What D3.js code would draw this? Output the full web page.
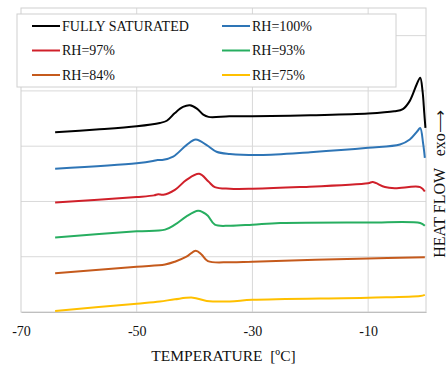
<!DOCTYPE html>
<html>
<head>
<meta charset="utf-8">
<script src="https://cdn.jsdelivr.net/npm/d3@7"></script>
<style>
  body { margin: 0; background: #fff; }
  svg text { font-family: "Liberation Serif", "Times New Roman", serif; }
</style>
</head>
<body>
<div id="chart"></div>
<script>
"use strict";

// temperature [ºC], heat flow (arbitrary, curves offset)
var fullySaturated = [[-64.1,3.25],[-57,3.30],[-50,3.36],[-46,3.42],[-44.8,3.46],[-43.4,3.60],[-42,3.71],[-40.8,3.74],[-39.6,3.68],[-38.5,3.57],[-37.6,3.53],[-34,3.54],[-30,3.54],[-20,3.56],[-10,3.59],[-5.5,3.63],[-4,3.67],[-2.8,3.82],[-1.6,4.12],[-1.0,4.24],[-0.6,4.0],[-0.3,3.6],[-0.1,3.33]];
var rh100 = [[-64.1,2.59],[-50,2.69],[-47.2,2.73],[-46.4,2.75],[-45.6,2.75],[-43.7,2.81],[-41.4,3.02],[-39.8,3.12],[-37.9,3.02],[-36.2,2.90],[-33.9,2.86],[-28.7,2.84],[-20,2.89],[-10,2.97],[-4.5,3.03],[-2.8,3.12],[-1.5,3.27],[-1.0,3.33],[-0.5,3.05],[-0.2,2.79]];
var rh97 = [[-64.1,1.98],[-50,2.08],[-47,2.11],[-46.3,2.13],[-45.4,2.12],[-43.4,2.21],[-41.4,2.39],[-39.2,2.50],[-37.6,2.36],[-36.5,2.26],[-33.9,2.23],[-30,2.23],[-21.8,2.26],[-10,2.33],[-9.2,2.35],[-7.1,2.26],[-5.4,2.24],[-1,2.26],[-0.2,2.18]];
var rh93 = [[-64.1,1.35],[-50,1.46],[-45.1,1.49],[-43.4,1.58],[-41.4,1.73],[-39.4,1.83],[-38.5,1.80],[-37.7,1.74],[-36.5,1.58],[-33.9,1.56],[-30,1.58],[-25.2,1.61],[-10,1.62],[-1,1.61],[-0.2,1.56]];
var rh84 = [[-64.1,0.70],[-50,0.82],[-45.1,0.86],[-43.4,0.91],[-41.4,1.00],[-39.8,1.11],[-38.8,1.04],[-37.7,0.92],[-33.9,0.90],[-30,0.91],[-10,0.97],[-0.2,0.99]];
var rh75 = [[-64.1,0.02],[-50,0.15],[-46,0.19],[-43.4,0.23],[-40.3,0.26],[-37.9,0.20],[-33.9,0.19],[-30,0.22],[-10,0.26],[-1,0.29],[-0.2,0.31]];

var seriesNames  = ["FULLY SATURATED", "RH=100%", "RH=97%", "RH=93%", "RH=84%", "RH=75%"];
var seriesValues = [fullySaturated, rh100, rh97, rh93, rh84, rh75];
var seriesColors = ["#000000", "#2e75b6", "#d0202a", "#27ae60", "#c55a1c", "#ffc000"];

var xTicks  = [-70, -50, -30, -10];
var yGrid   = [1, 2, 3, 4, 5];

var width  = 447;
var height = 365;
var margin = { top: 8, right: 21, bottom: 53, left: 21 };
var serif  = "'Liberation Serif', 'Times New Roman', serif";

var svg = d3.select("#chart").append("svg")
  .attr("width", width)
  .attr("height", height);

var x = d3.scaleLinear().domain([-70, 0]).range([margin.left, width - margin.right]);
var y = d3.scaleLinear().domain([0, 5.5]).range([height - margin.bottom, margin.top]);

// grid
svg.append("g")
  .selectAll("line")
  .data(yGrid)
  .enter().append("line")
  .attr("x1", x(-70)).attr("x2", x(0))
  .attr("y1", function(d) { return y(d); })
  .attr("y2", function(d) { return y(d); })
  .attr("stroke", "#d9d9d9");

svg.append("g")
  .selectAll("line")
  .data(xTicks.slice(1))
  .enter().append("line")
  .attr("y1", y(0)).attr("y2", y(5.5))
  .attr("x1", function(d) { return x(d); })
  .attr("x2", function(d) { return x(d); })
  .attr("stroke", "#d9d9d9");

svg.append("rect")
  .attr("x", x(-70)).attr("y", y(5.5))
  .attr("width", x(0) - x(-70)).attr("height", y(0) - y(5.5))
  .attr("fill", "none")
  .attr("stroke", "#d0d0d0");

// x axis
var xAxis = svg.append("g")
  .attr("transform", "translate(0," + y(0) + ")")
  .call(d3.axisBottom(x)
    .tickValues(xTicks)
    .tickSize(0)
    .tickPadding(14)
    .tickFormat(function(d) { return String(d); }));
xAxis.select(".domain").attr("stroke", "#bfbfbf");
xAxis.selectAll("text")
  .attr("font-family", serif)
  .attr("font-size", 14)
  .attr("fill", "#111");

// curves
var line = d3.line()
  .x(function(d) { return x(d[0]); })
  .y(function(d) { return y(d[1]); })
  .curve(d3.curveCatmullRom.alpha(0.5));

svg.append("g")
  .selectAll("path")
  .data(seriesValues)
  .enter().append("path")
  .attr("d", line)
  .attr("fill", "none")
  .attr("stroke", function(d, i) { return seriesColors[i]; })
  .attr("stroke-width", 2)
  .attr("stroke-linejoin", "round");

// legend
var legend = svg.append("g");
legend.append("rect")
  .attr("x", 17).attr("y", 14)
  .attr("width", 379).attr("height", 73)
  .attr("fill", "#fff")
  .attr("stroke", "#d0d0d0");

var item = legend.selectAll("g")
  .data(seriesNames)
  .enter().append("g")
  .attr("transform", function(d, i) {
    return "translate(" + (i % 2 ? 222 : 32) + "," + (26 + Math.floor(i / 2) * 24.5) + ")";
  });

item.append("line")
  .attr("x1", 0).attr("x2", 28)
  .attr("stroke", function(d, i) { return seriesColors[i]; })
  .attr("stroke-width", 2);

item.append("text")
  .attr("x", 30)
  .attr("dy", "0.35em")
  .attr("font-family", serif)
  .attr("font-size", 14)
  .attr("fill", "#111")
  .text(function(d) { return d; });

// titles
svg.append("text")
  .attr("x", (x(-70) + x(0)) / 2)
  .attr("y", 361)
  .attr("text-anchor", "middle")
  .attr("font-family", serif)
  .attr("font-size", 15.5)
  .attr("fill", "#111")
  .style("white-space", "pre")
  .text("TEMPERATURE  [ºC]");

svg.append("text")
  .attr("transform", "translate(445,184) rotate(-90)")
  .attr("text-anchor", "middle")
  .attr("font-family", serif)
  .attr("font-size", 16)
  .attr("fill", "#111")
  .style("white-space", "pre")
  .text("HEAT FLOW   exo\u27f6");
</script>
</body>
</html>
